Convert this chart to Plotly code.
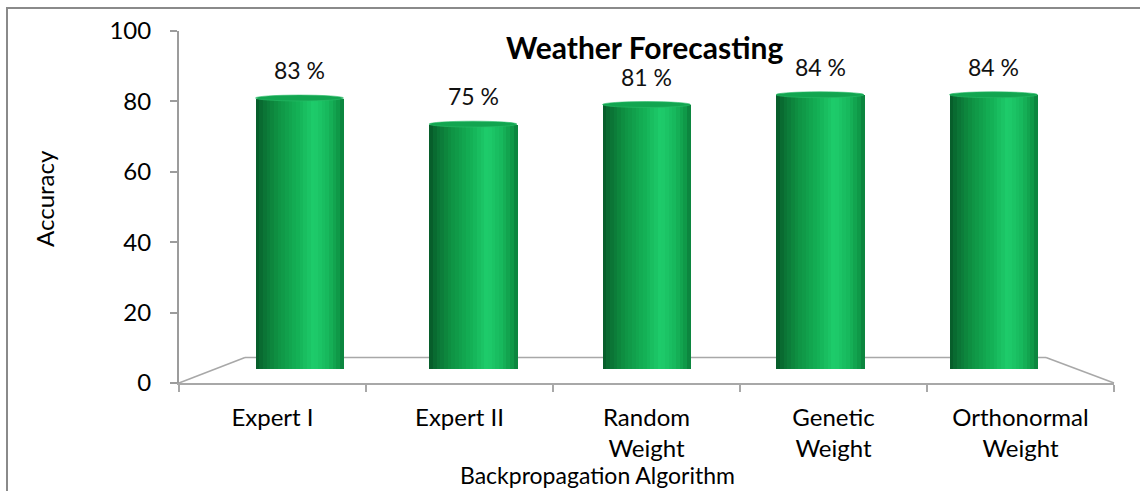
import plotly.graph_objects as go

# ---- data -------------------------------------------------------------
categories = ["Expert I", "Expert II", "Random<br>Weight", "Genetic<br>Weight", "Orthonormal<br>Weight"]
accuracy = [83, 75, 81, 84, 84]
value_labels = ["83 %", "75 %", "81 %", "84 %", "84 %"]
y_ticks = [0, 20, 40, 60, 80, 100]

W, H = 1140, 491
FONT = "Lato"


def px_x(p):
    return p / W


def px_y(p):
    return 1 - p / H


# cylinder shading: colour stops across the bar width (left -> right)
stops = [
    (0.00, (6, 88, 40)),
    (0.08, (10, 112, 52)),
    (0.25, (14, 146, 67)),
    (0.50, (21, 180, 88)),
    (0.66, (30, 205, 108)),
    (0.82, (23, 184, 92)),
    (0.94, (15, 152, 72)),
    (1.00, (10, 125, 58)),
]


def shade(t):
    for (t0, c0), (t1, c1) in zip(stops[:-1], stops[1:]):
        if t0 <= t <= t1:
            f = (t - t0) / (t1 - t0) if t1 > t0 else 0
            c = [round(a + (b - a) * f) for a, b in zip(c0, c1)]
            return "rgb(%d,%d,%d)" % tuple(c)
    return "rgb(%d,%d,%d)" % stops[-1][1]


bar_w = 0.507
n_strips = 24
strip = bar_w / n_strips

fig = go.Figure()

# the visible axes (floor front edge + value axis)
fig.add_trace(go.Scatter(x=categories, y=[None] * len(categories), xaxis="x", yaxis="y",
                         mode="markers", showlegend=False, hoverinfo="skip"))

# cylinders built from narrow vertical strips of graded green
for j in range(n_strips):
    t = (j + 0.5) / n_strips
    fig.add_trace(go.Bar(
        x=categories, y=accuracy, xaxis="x2", yaxis="y2",
        width=strip * 1.08, offset=-bar_w / 2 + j * strip,
        marker=dict(color=shade(t), line=dict(width=0)),
        showlegend=False, hoverinfo="skip",
    ))

shapes = []
# outer chart border
shapes.append(dict(type="rect", xref="paper", yref="paper",
                   x0=px_x(7), x1=px_x(1160), y0=px_y(8), y1=px_y(520),
                   line=dict(color="#8a8a8a", width=2), layer="below"))
# floor outline (back edge and side edges)
floor_col = "#a8a8a8"
for (xa, ya, xb, yb) in [(245, 357.5, 1046, 357.5), (179, 383, 245, 357.5), (1114, 383, 1046, 357.5)]:
    shapes.append(dict(type="line", xref="paper", yref="paper",
                       x0=px_x(xa), y0=px_y(ya), x1=px_x(xb), y1=px_y(yb),
                       line=dict(color=floor_col, width=1.5), layer="below"))

# rounded bottoms and caps of the cylinders
for i, v in enumerate(accuracy):
    shapes.append(dict(type="circle", xref="x2", yref="y2",
                       x0=i - bar_w / 2 + 0.004, x1=i + bar_w / 2 - 0.004, y0=-1.4, y1=1.4,
                       fillcolor="rgb(14,136,64)", line=dict(width=0), layer="below"))
    shapes.append(dict(type="circle", xref="x2", yref="y2",
                       x0=i - bar_w / 2, x1=i + bar_w / 2, y0=v - 0.9, y1=v + 0.9,
                       fillcolor="rgb(18,165,80)", line=dict(color="rgb(40,188,104)", width=0.6),
                       layer="above"))

annotations = []
for i, (v, lab) in enumerate(zip(accuracy, value_labels)):
    annotations.append(dict(x=i, y=v, xref="x2", yref="y2", text=lab, showarrow=False,
                            xanchor="center", yanchor="middle",
                            yshift=28, font=dict(family=FONT, size=23, color="#111")))

annotations.append(dict(x=px_x(644), y=px_y(47), xref="paper", yref="paper",
                        xanchor="center", yanchor="middle",
                        text="<b>Weather Forecasting</b>", showarrow=False,
                        font=dict(family=FONT, size=30, color="#000")))
annotations.append(dict(x=px_x(44), y=px_y(199), xref="paper", yref="paper",
                        xanchor="center", yanchor="middle",
                        text="Accuracy", textangle=-90, showarrow=False,
                        font=dict(family=FONT, size=24, color="#000")))
annotations.append(dict(x=px_x(597), y=px_y(475), xref="paper", yref="paper",
                        xanchor="center", yanchor="middle", borderpad=0,
                        text="Backpropagation Algorithm", showarrow=False,
                        font=dict(family=FONT, size=23, color="#000")))

fig.update_layout(
    width=W, height=H,
    margin=dict(l=0, r=0, t=0, b=0, autoexpand=False),
    paper_bgcolor="white", plot_bgcolor="rgba(0,0,0,0)",
    barmode="overlay", bargap=0,
    showlegend=False,
    shapes=shapes, annotations=annotations,
    xaxis=dict(domain=[px_x(179), px_x(1114)], type="category", categoryorder="array",
               categoryarray=categories, range=[-0.5, 4.5], anchor="y", automargin=False,
               showline=True, linecolor=floor_col, linewidth=1.5,
               ticks="outside", tickson="boundaries", ticklen=7, tickcolor=floor_col, tickwidth=1.5,
               showgrid=False, zeroline=False, ticklabelstandoff=12,
               tickfont=dict(family=FONT, size=24, color="#000")),
    yaxis=dict(domain=[px_y(383), px_y(31)], range=[0, 100], tickvals=y_ticks, anchor="x",
               automargin=False,
               showline=True, linecolor="#9c9c9c", linewidth=2,
               ticks="outside", ticklen=7, tickcolor="#9c9c9c", tickwidth=1.5,
               showgrid=False, zeroline=False, ticklabelstandoff=14,
               tickfont=dict(family=FONT, size=24, color="#000")),
    xaxis2=dict(domain=[px_x(212.75), px_x(1080.25)], type="category", categoryorder="array",
                categoryarray=categories, range=[-0.5, 4.5], anchor="y2", visible=False),
    yaxis2=dict(domain=[px_y(369), px_y(42.5)], range=[0, 100], anchor="x2", visible=False),
)

fig.write_html("out.html")
